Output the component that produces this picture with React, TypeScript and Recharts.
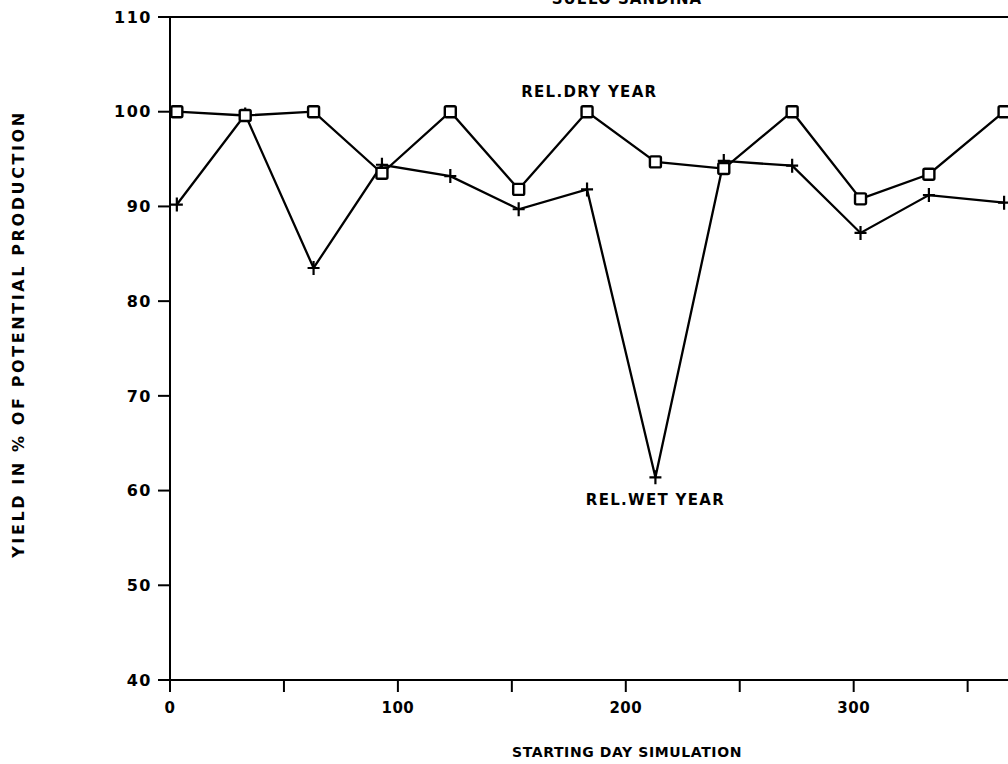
import { LineChart, Line, XAxis, YAxis, ReferenceLine, ReferenceDot } from 'recharts';

// starting day of the simulation (x) and relative yield in % (y)
const startDays = [3, 33, 63, 93, 123, 153, 183, 213, 243, 273, 303, 333, 366];
const dryYear = [100, 99.6, 100, 93.5, 100, 91.8, 100, 94.7, 94.0, 100, 90.8, 93.4, 100];
const wetYear = [90.2, 99.7, 83.5, 94.4, 93.2, 89.7, 91.8, 61.4, 94.8, 94.3, 87.2, 91.2, 90.4];

const xTicks = [0, 50, 100, 150, 200, 250, 300, 350];
const yTicks = [40, 50, 60, 70, 80, 90, 100, 110];

const data = startDays.map((day, i) => ({ day, dry: dryYear[i], wet: wetYear[i] }));

const FONT = '"DejaVu Sans", sans-serif';

const SquareDot = (props: any) => {
  const { cx, cy, index } = props;
  if (cx == null || cy == null) return <g key={`s-${index}`} />;
  return (
    <rect
      key={`s-${index}`}
      x={cx - 5.5}
      y={cy - 5.5}
      width={11}
      height={11}
      rx={1.5}
      fill="#fff"
      stroke="#000"
      strokeWidth={2.4}
    />
  );
};

const PlusDot = (props: any) => {
  const { cx, cy, index } = props;
  if (cx == null || cy == null) return <g key={`p-${index}`} />;
  return (
    <path
      key={`p-${index}`}
      d={`M${cx - 6},${cy}H${cx + 6}M${cx},${cy - 7}V${cy + 7}`}
      stroke="#000"
      strokeWidth={2.2}
    />
  );
};

export default function App() {
  const xTickStyle = { fontFamily: FONT, fontSize: 15, fontWeight: 700, fill: '#000', letterSpacing: 0.5 };
  const yTickStyle = { fontFamily: FONT, fontSize: 16, fontWeight: 700, fill: '#000', letterSpacing: 1.5 };
  const noteStyle = { fontFamily: FONT, fontSize: 15, fontWeight: 700, fill: '#000', letterSpacing: 1.3 };

  return (
    <div
      style={{
        position: 'fixed',
        left: 0,
        top: 0,
        width: 1008,
        height: 764,
        overflow: 'hidden',
        background: '#fff',
        fontFamily: FONT,
      }}
    >
      <div
        style={{
          position: 'absolute',
          left: 627,
          top: -10,
          transform: 'translateX(-50%)',
          fontSize: 15,
          fontWeight: 700,
          letterSpacing: 1,
          whiteSpace: 'nowrap',
        }}
      >
        SUELO SANDINA
      </div>
      <div
        style={{
          position: 'absolute',
          left: 18,
          top: 334,
          transform: 'translate(-50%, -50%) rotate(-90deg)',
          fontSize: 16,
          fontWeight: 700,
          letterSpacing: 2.6,
          whiteSpace: 'nowrap',
        }}
      >
        YIELD IN % OF POTENTIAL PRODUCTION
      </div>
      <div
        style={{
          position: 'absolute',
          left: 627,
          top: 752,
          transform: 'translate(-50%, -50%)',
          fontSize: 14,
          fontWeight: 700,
          letterSpacing: 0.6,
          whiteSpace: 'nowrap',
        }}
      >
        STARTING DAY SIMULATION
      </div>

      <LineChart
        width={1100}
        height={764}
        data={data}
        margin={{ top: 17, right: 64, left: 108, bottom: 0 }}
        style={{ position: 'absolute', left: 0, top: 0 }}
      >
        <XAxis
          dataKey="day"
          type="number"
          domain={[0, 380]}
          ticks={xTicks}
          allowDataOverflow
          height={84}
          tickSize={12}
          tickMargin={10}
          tickFormatter={(v: number) => (v % 100 === 0 ? String(v) : '')}
          stroke="#000"
          axisLine={{ stroke: '#000', strokeWidth: 2 }}
          tickLine={{ stroke: '#000', strokeWidth: 2 }}
          tick={xTickStyle}
        />
        <YAxis
          type="number"
          domain={[40, 110]}
          ticks={yTicks}
          allowDataOverflow
          width={62}
          tickSize={12}
          tickMargin={6}
          stroke="#000"
          axisLine={{ stroke: '#000', strokeWidth: 2 }}
          tickLine={{ stroke: '#000', strokeWidth: 2 }}
          tick={yTickStyle}
        />
        <ReferenceLine y={110} stroke="#000" strokeWidth={2.2} />
        <Line
          dataKey="wet"
          stroke="#000"
          strokeWidth={2.3}
          dot={PlusDot}
          activeDot={false}
          isAnimationActive={false}
        />
        <Line
          dataKey="dry"
          stroke="#000"
          strokeWidth={2.3}
          dot={SquareDot}
          activeDot={false}
          isAnimationActive={false}
        />
        <ReferenceDot
          x={184}
          y={102.1}
          r={0}
          stroke="none"
          label={{ value: 'REL.DRY YEAR', position: 'center', style: noteStyle }}
        />
        <ReferenceDot
          x={213}
          y={59}
          r={0}
          stroke="none"
          label={{ value: 'REL.WET YEAR', position: 'center', style: noteStyle }}
        />
      </LineChart>
    </div>
  );
}
